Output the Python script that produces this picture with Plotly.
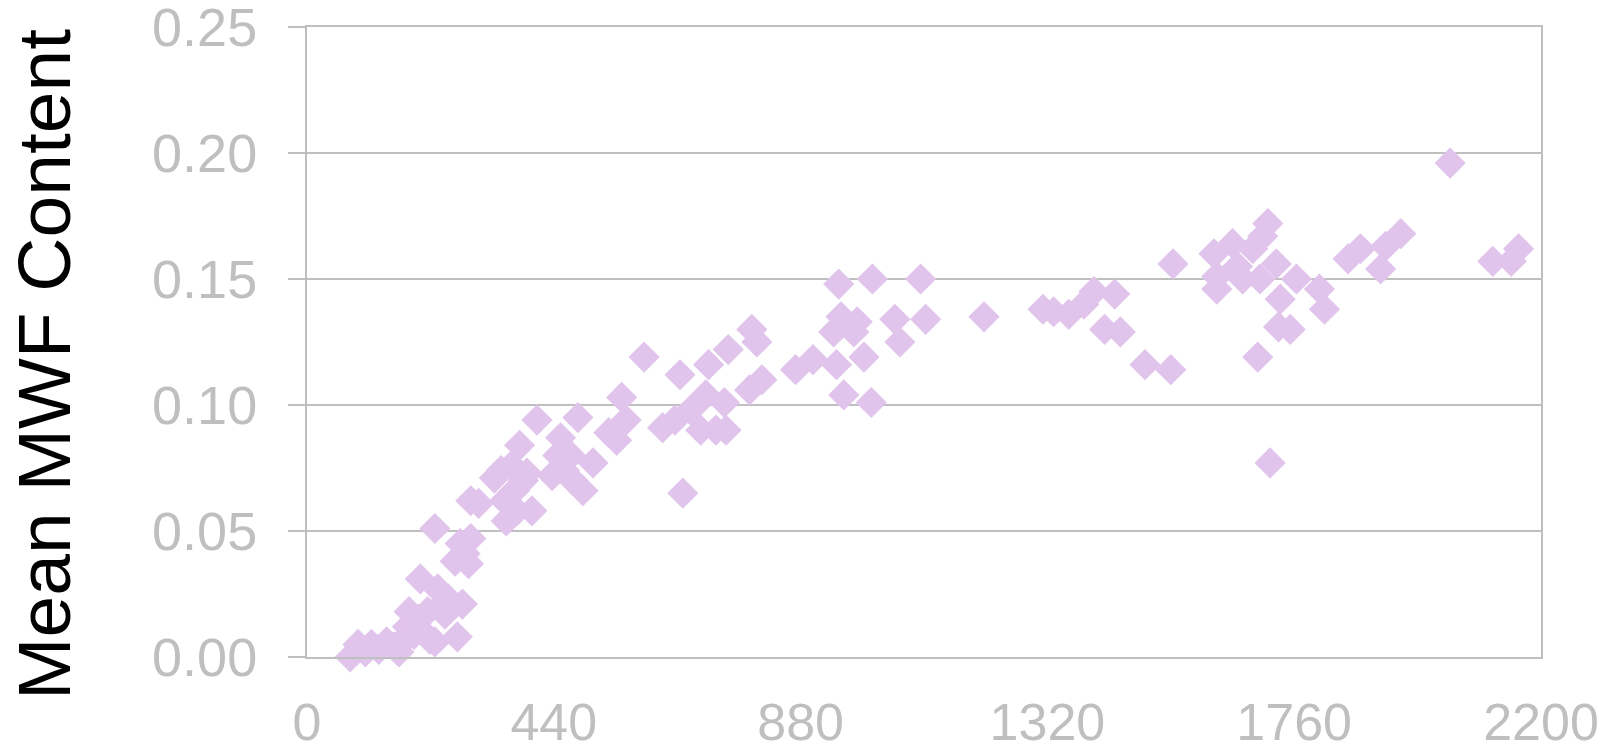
import plotly.graph_objects as go

# Total white matter volume vs. mean myelin water fraction per subject
volume = [
    77, 91, 104, 115, 128, 142, 155, 164, 173, 179, 182, 191, 200, 202, 215, 219,
    228, 228, 233, 237, 246, 252, 264, 268, 273, 277, 282, 288, 292, 292, 306,
    334, 346, 352, 355, 365, 370, 374, 379, 386, 392, 401, 410, 437, 447, 452,
    459, 470, 474, 483, 492, 510, 538, 552, 561, 569, 601, 634, 656, 665, 670,
    684, 702, 711, 716, 729, 744, 747, 751, 789, 793, 802, 811, 871, 902, 939,
    944, 948, 952, 957, 975, 981, 993, 1006, 1008, 1048, 1057, 1094, 1103, 1207,
    1312, 1331, 1358, 1385, 1403, 1422, 1440, 1450, 1494, 1540, 1544, 1617, 1622,
    1622, 1650, 1659, 1668, 1686, 1695, 1699, 1704, 1713, 1717, 1728, 1732, 1735,
    1753, 1764, 1805, 1814, 1856, 1878, 1914, 1923, 1950, 2038, 2114, 2147, 2160,
]
mwf = [
    0.000, 0.005, 0.002, 0.005, 0.003, 0.006, 0.004, 0.002, 0.007, 0.012, 0.018,
    0.009, 0.015, 0.031, 0.018, 0.007, 0.006, 0.051, 0.027, 0.020, 0.017, 0.023,
    0.038, 0.008, 0.045, 0.021, 0.041, 0.037, 0.062, 0.047, 0.061,
    0.071, 0.074, 0.062, 0.054, 0.076, 0.066, 0.058, 0.084, 0.070, 0.073, 0.058,
    0.094, 0.072, 0.080, 0.087, 0.074, 0.080, 0.070, 0.095, 0.066, 0.077, 0.089,
    0.086, 0.103, 0.094, 0.119, 0.091, 0.094, 0.112, 0.065, 0.098, 0.090, 0.104,
    0.116, 0.090, 0.101, 0.090, 0.122, 0.106, 0.130, 0.125, 0.110, 0.114, 0.118,
    0.129, 0.116, 0.148, 0.135, 0.104, 0.129, 0.133, 0.119, 0.101, 0.150, 0.134,
    0.125, 0.150, 0.134, 0.135, 0.138, 0.137, 0.136, 0.140, 0.145, 0.130, 0.144,
    0.129, 0.116, 0.114, 0.156, 0.160, 0.151, 0.146, 0.164, 0.155, 0.150, 0.162,
    0.119, 0.150, 0.167, 0.172, 0.077, 0.156, 0.131, 0.142, 0.130, 0.150, 0.146,
    0.138, 0.158, 0.162, 0.154, 0.163, 0.168, 0.196, 0.157, 0.157, 0.162,
]

x_ticks = [0, 440, 880, 1320, 1760, 2200]
y_ticks = [0.00, 0.05, 0.10, 0.15, 0.20, 0.25]

grey = "#BFBFBF"
font_family = "Liberation Sans, Arial, sans-serif"

fig = go.Figure(
    go.Scatter(
        x=volume,
        y=mwf,
        mode="markers",
        marker=dict(symbol="diamond", size=24, color="#E1C4EC", line=dict(width=0)),
        hoverinfo="x+y",
        cliponaxis=False,
    )
)

fig.update_layout(
    width=1604,
    height=755,
    margin=dict(l=307, r=63, t=27, b=98),
    paper_bgcolor="white",
    plot_bgcolor="white",
    showlegend=False,
    font=dict(family=font_family, color=grey, size=54),
)

fig.update_xaxes(
    range=[0, 2200],
    tickmode="array",
    tickvals=x_ticks,
    ticktext=[str(v) for v in x_ticks],
    showgrid=False,
    zeroline=False,
    showline=True,
    mirror=True,
    linecolor=grey,
    linewidth=2,
    ticks="",
    automargin=False,
    ticklabelstandoff=19,
    ticklabeloverflow="allow",
    tickfont=dict(size=52, color=grey, family=font_family),
)

fig.update_yaxes(
    range=[0, 0.25],
    tickmode="array",
    tickvals=y_ticks,
    ticktext=[f"{v:.2f}" for v in y_ticks],
    showgrid=True,
    gridcolor=grey,
    gridwidth=2,
    zeroline=False,
    showline=True,
    mirror=True,
    linecolor=grey,
    linewidth=2,
    ticks="outside",
    ticklen=17,
    tickwidth=2,
    tickcolor=grey,
    automargin=False,
    ticklabelstandoff=20,
    ticklabeloverflow="allow",
    tickfont=dict(size=54, color=grey, family=font_family),
)

fig.add_annotation(
    text="Mean MWF Content",
    textangle=-90,
    xref="paper",
    yref="paper",
    x=(44 - 307) / 1234,
    y=(657 - 365) / 630,
    xanchor="center",
    yanchor="middle",
    showarrow=False,
    font=dict(size=75, color="black", family=font_family),
)

fig.write_html("out.html")
